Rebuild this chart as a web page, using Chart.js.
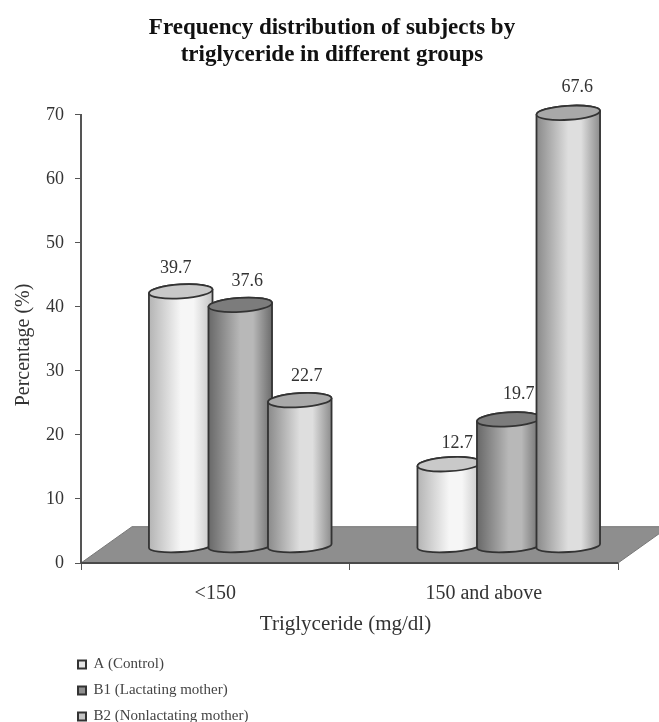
<!DOCTYPE html>
<html><head><meta charset="utf-8">
<style>html,body{margin:0;padding:0;background:#fff}canvas{display:block;filter:blur(0.45px)}</style>
<script src="https://cdn.jsdelivr.net/npm/chart.js@4"></script>
</head><body><canvas id="c" width="659" height="722"></canvas>
<script>
const categories = ['<150', '150 and above'];
const seriesNames = ['A (Control)', 'B1 (Lactating mother)', 'B2 (Nonlactating mother)'];
const seriesA = [39.7, 12.7];
const seriesB1 = [37.6, 19.7];
const seriesB2 = [22.7, 67.6];
const titleLines = ['Frequency distribution of subjects by', 'triglyceride in different groups'];
const xTitle = 'Triglyceride (mg/dl)';
const yTitle = 'Percentage (%)';
const legendColors = ['#e6e6e6', '#8f8f8f', '#c4c4c4'];
const shades = [
  {edgeL:'#b4b4b4', mid:'#f6f6f6', edgeR:'#c4c4c4', top:'#c9c9c9'},
  {edgeL:'#686868', mid:'#b8b8b8', edgeR:'#6c6c6c', top:'#7c7c7c'},
  {edgeL:'#8a8a8a', mid:'#dedede', edgeR:'#8c8c8c', top:'#a9a9a9'}
];
// nudges of each value label from the centre of its cylinder top: [series][category] -> [dx, dy]
const labelNudges = [[[-5,-24],[8,-22]],[[7,-25],[10,-26]],[[7,-25],[9,-26]]];
const FONT = '"Liberation Serif", serif';
const INK = '#333';
const DEPTH_X = 25, DEPTH_Y = -16.5, TILT = -0.062, RY = 7;

function shiftTitle(scale, dx, dy) {
  const orig = scale.drawTitle;
  scale.drawTitle = function () {
    const c = this.ctx;
    c.save(); c.translate(dx, dy); orig.call(this); c.restore();
  };
}

const cylinders = {
  id: 'cylinders',
  afterLayout(chart) {
    const l = chart.legend;
    const w = l.width, h = l.height;
    l.left = 67; l.top = 646; l.right = l.left + w; l.bottom = l.top + h;
    chart.titleBlock.left += 20; chart.titleBlock.right += 20;
    if (!chart.$shifted) {
      chart.$shifted = true;
      shiftTitle(chart.scales.y, 6, 6);
      shiftTitle(chart.scales.x, -4, -3);
    }
  },
  beforeDatasetsDraw(chart) {
    const {ctx, scales:{x, y}} = chart;
    const y0 = y.getPixelForValue(0);
    const back = y0 + DEPTH_Y * 2.2;
    ctx.save();
    ctx.beginPath();
    ctx.moveTo(x.left, y0);
    ctx.lineTo(x.left + 51, back);
    ctx.lineTo(x.right + 51, back);
    ctx.lineTo(x.right, y0);
    ctx.closePath();
    ctx.fillStyle = '#8e8e8e';
    ctx.fill();
    ctx.strokeStyle = '#777';
    ctx.lineWidth = 1;
    ctx.stroke();
    ctx.beginPath();
    ctx.moveTo(x.left, y0);
    ctx.lineTo(x.right, y0);
    ctx.strokeStyle = '#4a4a4a';
    ctx.lineWidth = 2;
    ctx.stroke();
    ctx.restore();
  },
  beforeDatasetDraw() { return false; },
  afterDatasetsDraw(chart) {
    const {ctx} = chart;
    ctx.save();
    chart.data.datasets.forEach((ds, i) => {
      const s = shades[i];
      chart.getDatasetMeta(i).data.forEach(el => {
        const {x, y, base, width} = el.getProps(['x','y','base','width'], true);
        const cx = x + DEPTH_X, rx = width / 2;
        const topY = y + DEPTH_Y - 1, botY = base + DEPTH_Y;
        const ex = rx * Math.cos(TILT), ey = rx * Math.sin(TILT);
        const g = ctx.createLinearGradient(cx - rx, 0, cx + rx, 0);
        g.addColorStop(0, s.edgeL);
        g.addColorStop(0.5, s.mid);
        g.addColorStop(0.7, s.mid);
        g.addColorStop(1, s.edgeR);
        ctx.beginPath();
        ctx.ellipse(cx, botY, rx, RY - 1, TILT, 0, Math.PI);
        ctx.lineTo(cx - ex, topY - ey);
        ctx.ellipse(cx, topY, rx, RY, TILT, Math.PI, Math.PI * 2);
        ctx.closePath();
        ctx.fillStyle = g;
        ctx.fill();
        ctx.strokeStyle = '#333';
        ctx.lineWidth = 1.8;
        ctx.stroke();
        ctx.beginPath();
        ctx.ellipse(cx, topY, rx, RY, TILT, 0, Math.PI * 2);
        ctx.fillStyle = s.top;
        ctx.fill();
        ctx.stroke();
      });
    });
    ctx.font = '18px ' + FONT;
    ctx.fillStyle = INK;
    ctx.textAlign = 'center';
    ctx.textBaseline = 'middle';
    chart.data.datasets.forEach((ds, i) => {
      chart.getDatasetMeta(i).data.forEach((el, j) => {
        const n = labelNudges[i][j];
        ctx.fillText(ds.data[j].toFixed(1), el.x + DEPTH_X + n[0], el.y + DEPTH_Y + n[1]);
      });
    });
    ctx.restore();
  }
};

const seriesValues = [seriesA, seriesB1, seriesB2];
new Chart(document.getElementById('c'), {
  type: 'bar',
  data: {
    labels: categories,
    datasets: seriesNames.map((name, i) => ({
      label: name,
      data: seriesValues[i],
      backgroundColor: legendColors[i],
      borderColor: '#333',
      borderWidth: 2,
      categoryPercentage: 0.665,
      barPercentage: 1.07
    }))
  },
  options: {
    responsive: false,
    animation: false,
    layout: {padding: {left: 6, right: 41, bottom: 82, top: 0}},
    plugins: {
      tooltip: {enabled: false},
      title: {
        display: true, text: titleLines, color: '#111',
        font: {family: FONT, size: 23, weight: 'bold', lineHeight: 1.15},
        padding: {top: 15, bottom: 47}
      },
      legend: {
        position: 'chartArea', align: 'start',
        labels: {
          boxWidth: 8, boxHeight: 8, padding: 11,
          color: '#444', font: {family: FONT, size: 15}
        }
      }
    },
    scales: {
      x: {
        grid: {display: true, drawOnChartArea: false, color: '#555', tickLength: 7, offset: true},
        border: {color: '#555', width: 2},
        ticks: {color: INK, font: {family: FONT, size: 20}, padding: 12, maxRotation: 0},
        title: {display: true, text: xTitle, color: INK, font: {family: FONT, size: 21}, padding: {top: 8, bottom: 0}},
        afterFit(s) { s.height = 77; }
      },
      y: {
        min: 0, max: 70,
        grid: {display: true, drawOnChartArea: false, color: '#555', tickLength: 6},
        border: {color: '#555', width: 2},
        ticks: {stepSize: 10, color: INK, font: {family: FONT, size: 18}, padding: 11},
        title: {display: true, text: yTitle, color: INK, font: {family: FONT, size: 20}, padding: {top: 0, bottom: 0}},
        afterFit(s) { s.width = 75; }
      }
    }
  },
  plugins: [cylinders]
});
</script></body></html>
